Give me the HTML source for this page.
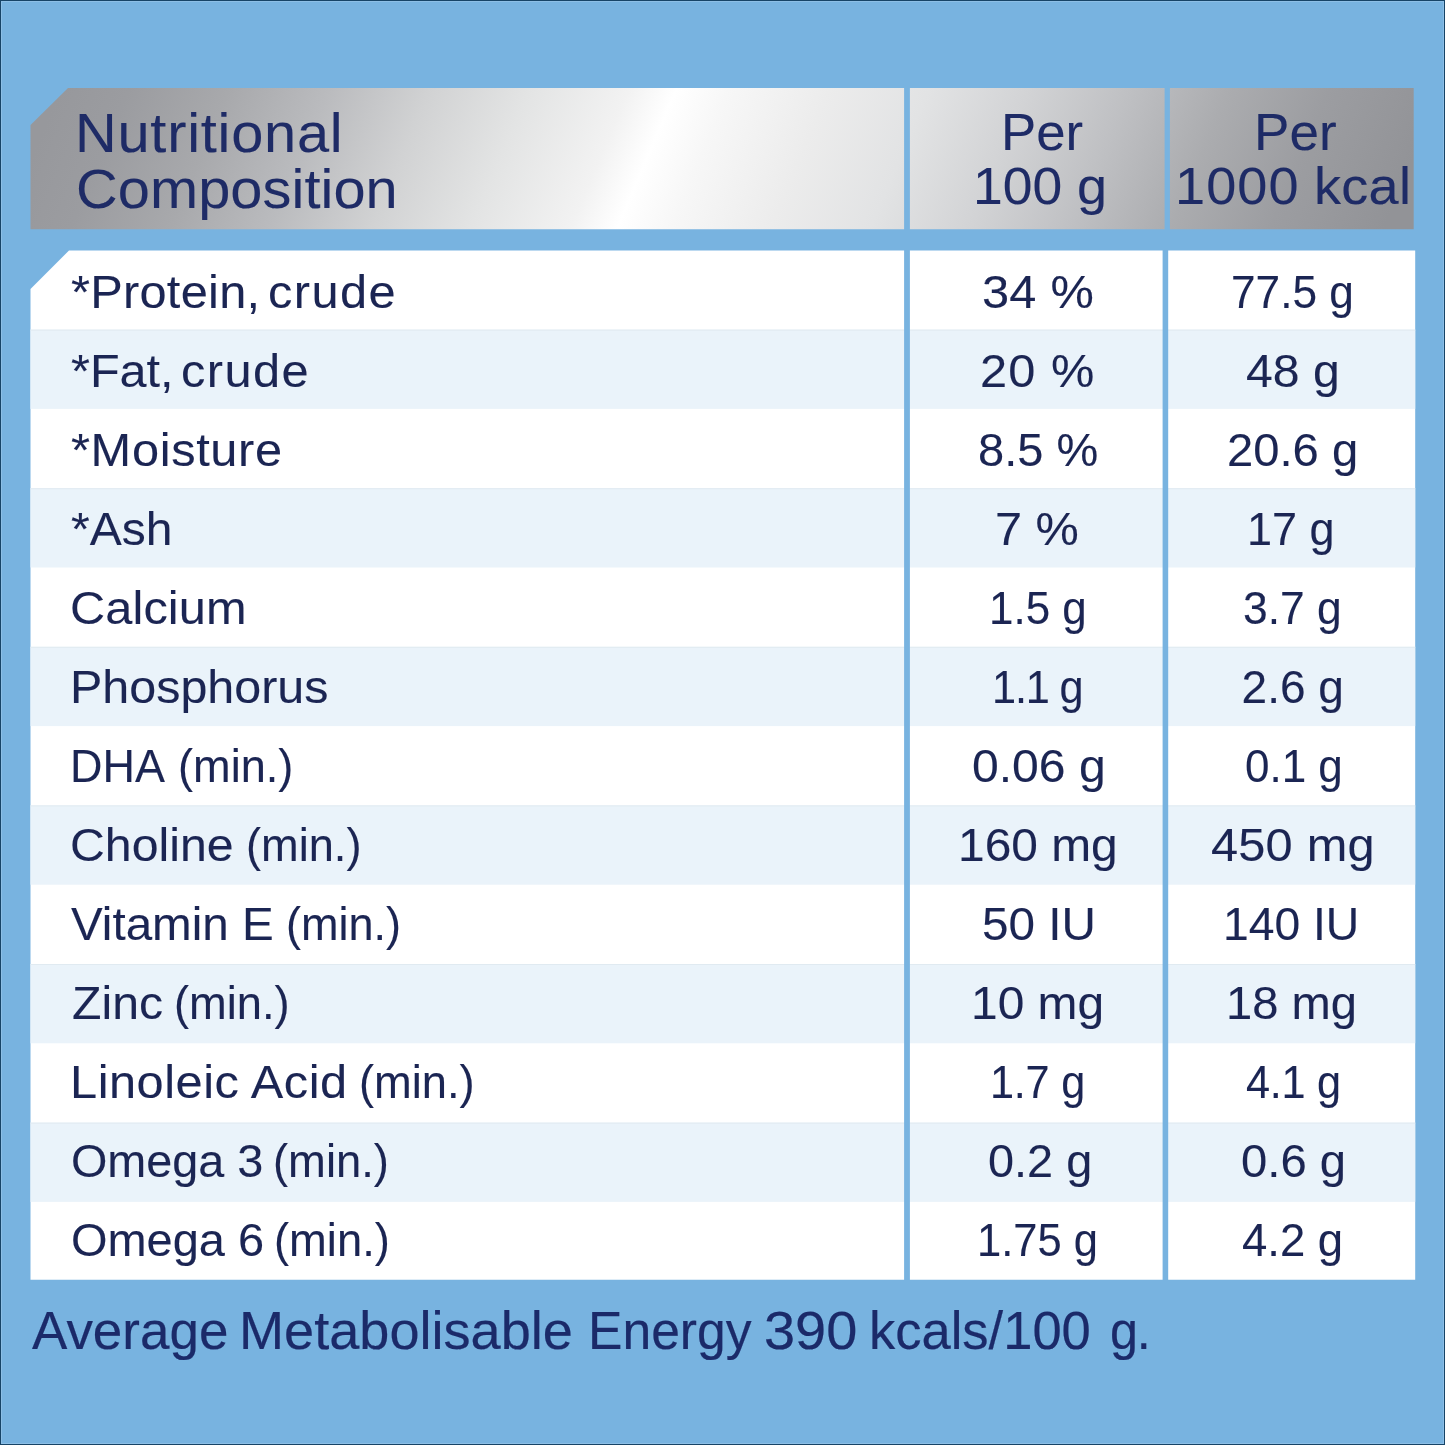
<!DOCTYPE html>
<html lang="en">
<head>
<meta charset="utf-8">
<title>Nutritional Composition</title>
<style>
html,body{margin:0;padding:0;}
body{width:1445px;height:1445px;overflow:hidden;background:#78b3e0;position:relative;
 font-family:"Liberation Sans",sans-serif;color:#1b2553;}
#bg{position:absolute;left:0;top:0;width:1445px;height:1445px;display:block;}
.t{position:absolute;white-space:nowrap;line-height:1;transform-origin:0 50%;}
.h{color:#1e2b66;-webkit-text-stroke:0.1px #1e2b66;}
.b{color:#1b2553;-webkit-text-stroke:0.1px #1b2553;}
.f{color:#1b2a69;-webkit-text-stroke:0.2px #1b2a69;}
</style>
</head>
<body>
<svg id="bg" width="1445" height="1445" viewBox="0 0 1445 1445">
  <defs>
    <linearGradient id="g" gradientUnits="userSpaceOnUse" x1="31" y1="158" x2="1414" y2="158" gradientTransform="rotate(23.0 647 158)">
      <stop offset="0.0354" stop-color="#97989c"/>
      <stop offset="0.0813" stop-color="#9b9ca0"/>
      <stop offset="0.1479" stop-color="#a8a9ac"/>
      <stop offset="0.2145" stop-color="#babbbe"/>
      <stop offset="0.2810" stop-color="#d1d2d3"/>
      <stop offset="0.3476" stop-color="#e3e4e4"/>
      <stop offset="0.4141" stop-color="#f2f2f2"/>
      <stop offset="0.4454" stop-color="#ffffff"/>
      <stop offset="0.4807" stop-color="#f7f7f7"/>
      <stop offset="0.5472" stop-color="#ececec"/>
      <stop offset="0.6138" stop-color="#e2e3e4"/>
      <stop offset="0.6804" stop-color="#d2d3d5"/>
      <stop offset="0.7469" stop-color="#bfc0c3"/>
      <stop offset="0.8135" stop-color="#abacaf"/>
      <stop offset="0.8800" stop-color="#9c9da1"/>
      <stop offset="0.9559" stop-color="#929397"/>
    </linearGradient>
  </defs>
  <rect x="0" y="0" width="1445" height="1445" fill="#78b3e0"/>
  <polygon points="68,88 1413.7,88 1413.7,229.3 30.5,229.3 30.5,125" fill="url(#g)"/>
  <polygon points="69,250.5 1415.2,250.5 1415.2,1279.8 30.5,1279.8 30.5,289" fill="#ffffff"/>
  <g fill="#eaf3fa">
    <rect x="30.5" y="329.60" width="1384.7" height="79.3"/>
    <rect x="30.5" y="488.20" width="1384.7" height="79.3"/>
    <rect x="30.5" y="646.80" width="1384.7" height="79.3"/>
    <rect x="30.5" y="805.40" width="1384.7" height="79.3"/>
    <rect x="30.5" y="964.00" width="1384.7" height="79.3"/>
    <rect x="30.5" y="1122.60" width="1384.7" height="79.3"/>
  </g>
  <g fill="#e0eaf1">
    <rect x="30.5" y="329.60" width="1384.7" height="1"/>
    <rect x="30.5" y="488.20" width="1384.7" height="1"/>
    <rect x="30.5" y="646.80" width="1384.7" height="1"/>
    <rect x="30.5" y="805.40" width="1384.7" height="1"/>
    <rect x="30.5" y="964.00" width="1384.7" height="1"/>
    <rect x="30.5" y="1122.60" width="1384.7" height="1"/>
  </g>
  <rect x="904.1" y="80" width="5.8" height="1205" fill="#78b3e0"/>
  <rect x="1164.6" y="80" width="5.3" height="160" fill="#78b3e0"/>
  <rect x="1162.6" y="245" width="5.6" height="1040" fill="#78b3e0"/>
  <rect x="0.5" y="0.5" width="1444" height="1444" fill="none" stroke="#174467" stroke-width="1"/>
  <rect x="1.5" y="1.5" width="1442" height="1442" fill="none" stroke="#8dbfe6" stroke-width="1"/>
</svg>
<div class="t h" style="left:75.2px;top:106px;font-size:55px;letter-spacing:0.73px;transform:scaleX(1.0500)">Nutritional</div>
<div class="t h" style="left:75.9px;top:162px;font-size:55px;letter-spacing:0.07px;transform:scaleX(1.0500)">Composition</div>
<div class="t h" style="left:1000.7px;top:107px;font-size:51.5px;letter-spacing:0.00px;transform:scaleX(1.0240)">Per</div>
<div class="t h" style="left:973.1px;top:161px;font-size:51.5px;letter-spacing:0.00px;transform:scaleX(1.0375)">100</div>
<div class="t h" style="left:1076.9px;top:161px;font-size:51.5px;letter-spacing:0.00px;transform:scaleX(1.0500)">g</div>
<div class="t h" style="left:1253.8px;top:107px;font-size:51.5px;letter-spacing:0.00px;transform:scaleX(1.0307)">Per</div>
<div class="t h" style="left:1175.3px;top:161px;font-size:51.5px;letter-spacing:1.03px;transform:scaleX(1.0500)">1000</div>
<div class="t h" style="left:1313.8px;top:161px;font-size:51.5px;letter-spacing:0.24px;transform:scaleX(1.0500)">kcal</div>
<div class="t b" style="left:70.5px;top:269px;font-size:46px;letter-spacing:0.24px;transform:scaleX(1.0600)">*Protein,</div>
<div class="t b" style="left:268.0px;top:269px;font-size:46px;letter-spacing:1.33px;transform:scaleX(1.0600)">crude</div>
<div class="t b" style="left:982.0px;top:269px;font-size:46px;letter-spacing:0.20px;transform:scaleX(1.0600)">34 %</div>
<div class="t b" style="left:1231.1px;top:269px;font-size:46px;letter-spacing:0.00px;transform:scaleX(0.9610)">77.5 g</div>
<div class="t b" style="left:70.5px;top:348px;font-size:46px;letter-spacing:0.00px;transform:scaleX(1.0554)">*Fat,</div>
<div class="t b" style="left:180.6px;top:348px;font-size:46px;letter-spacing:1.33px;transform:scaleX(1.0600)">crude</div>
<div class="t b" style="left:980.3px;top:348px;font-size:46px;letter-spacing:1.05px;transform:scaleX(1.0600)">20 %</div>
<div class="t b" style="left:1246.0px;top:348px;font-size:46px;letter-spacing:0.00px;transform:scaleX(1.0465)">48 g</div>
<div class="t b" style="left:70.5px;top:427px;font-size:46px;letter-spacing:0.61px;transform:scaleX(1.0600)">*Moisture</div>
<div class="t b" style="left:977.5px;top:427px;font-size:46px;letter-spacing:0.00px;transform:scaleX(1.0219)">8.5 %</div>
<div class="t b" style="left:1226.6px;top:427px;font-size:46px;letter-spacing:0.00px;transform:scaleX(1.0252)">20.6 g</div>
<div class="t b" style="left:70.6px;top:506px;font-size:46px;letter-spacing:0.00px;transform:scaleX(1.0441)">*Ash</div>
<div class="t b" style="left:995.1px;top:506px;font-size:46px;letter-spacing:0.00px;transform:scaleX(1.0587)">7 %</div>
<div class="t b" style="left:1246.7px;top:506px;font-size:46px;letter-spacing:0.00px;transform:scaleX(0.9783)">17 g</div>
<div class="t b" style="left:70.1px;top:585px;font-size:46px;letter-spacing:0.07px;transform:scaleX(1.0600)">Calcium</div>
<div class="t b" style="left:989.2px;top:585px;font-size:46px;letter-spacing:0.00px;transform:scaleX(0.9547)">1.5 g</div>
<div class="t b" style="left:1243.4px;top:585px;font-size:46px;letter-spacing:0.00px;transform:scaleX(0.9649)">3.7 g</div>
<div class="t b" style="left:69.5px;top:664px;font-size:46px;letter-spacing:-0.00px;transform:scaleX(1.0529)">Phosphorus</div>
<div class="t b" style="left:992.0px;top:664px;font-size:46px;letter-spacing:-1.22px;transform:scaleX(0.9400)">1.1 g</div>
<div class="t b" style="left:1241.6px;top:664px;font-size:46px;letter-spacing:0.00px;transform:scaleX(1.0000)">2.6 g</div>
<div class="t b" style="left:70.2px;top:743px;font-size:46px;letter-spacing:0.00px;transform:scaleX(0.9774)">DHA</div>
<div class="t b" style="left:177.5px;top:743px;font-size:46px;letter-spacing:0.00px;transform:scaleX(0.9813)">(min.)</div>
<div class="t b" style="left:971.9px;top:743px;font-size:46px;letter-spacing:0.00px;transform:scaleX(1.0455)">0.06 g</div>
<div class="t b" style="left:1244.5px;top:743px;font-size:46px;letter-spacing:0.00px;transform:scaleX(0.9557)">0.1 g</div>
<div class="t b" style="left:70.4px;top:822px;font-size:46px;letter-spacing:0.00px;transform:scaleX(1.0487)">Choline</div>
<div class="t b" style="left:246.4px;top:822px;font-size:46px;letter-spacing:0.00px;transform:scaleX(0.9821)">(min.)</div>
<div class="t b" style="left:958.1px;top:822px;font-size:46px;letter-spacing:0.00px;transform:scaleX(1.0411)">160 mg</div>
<div class="t b" style="left:1211.2px;top:822px;font-size:46px;letter-spacing:0.18px;transform:scaleX(1.0600)">450 mg</div>
<div class="t b" style="left:71.2px;top:901px;font-size:46px;letter-spacing:0.00px;transform:scaleX(1.0340)">Vitamin E</div>
<div class="t b" style="left:285.8px;top:901px;font-size:46px;letter-spacing:0.00px;transform:scaleX(0.9795)">(min.)</div>
<div class="t b" style="left:981.5px;top:901px;font-size:46px;letter-spacing:-0.00px;transform:scaleX(1.0365)">50 IU</div>
<div class="t b" style="left:1223.0px;top:901px;font-size:46px;letter-spacing:0.00px;transform:scaleX(1.0055)">140 IU</div>
<div class="t b" style="left:71.5px;top:980px;font-size:46px;letter-spacing:0.00px;transform:scaleX(1.0476)">Zinc</div>
<div class="t b" style="left:174.1px;top:980px;font-size:46px;letter-spacing:0.00px;transform:scaleX(0.9839)">(min.)</div>
<div class="t b" style="left:970.9px;top:980px;font-size:46px;letter-spacing:0.00px;transform:scaleX(1.0413)">10 mg</div>
<div class="t b" style="left:1225.7px;top:980px;font-size:46px;letter-spacing:0.00px;transform:scaleX(1.0248)">18 mg</div>
<div class="t b" style="left:69.5px;top:1059px;font-size:46px;letter-spacing:0.48px;transform:scaleX(1.0600)">Linoleic Acid</div>
<div class="t b" style="left:358.5px;top:1059px;font-size:46px;letter-spacing:0.00px;transform:scaleX(0.9839)">(min.)</div>
<div class="t b" style="left:989.5px;top:1059px;font-size:46px;letter-spacing:-0.24px;transform:scaleX(0.9400)">1.7 g</div>
<div class="t b" style="left:1245.5px;top:1059px;font-size:46px;letter-spacing:-0.27px;transform:scaleX(0.9400)">4.1 g</div>
<div class="t b" style="left:70.5px;top:1138px;font-size:46px;letter-spacing:0.00px;transform:scaleX(1.0162)">Omega 3</div>
<div class="t b" style="left:273.4px;top:1138px;font-size:46px;letter-spacing:0.00px;transform:scaleX(0.9866)">(min.)</div>
<div class="t b" style="left:987.5px;top:1138px;font-size:46px;letter-spacing:0.00px;transform:scaleX(1.0186)">0.2 g</div>
<div class="t b" style="left:1240.5px;top:1138px;font-size:46px;letter-spacing:0.00px;transform:scaleX(1.0268)">0.6 g</div>
<div class="t b" style="left:70.5px;top:1217px;font-size:46px;letter-spacing:0.00px;transform:scaleX(1.0205)">Omega 6</div>
<div class="t b" style="left:274.2px;top:1217px;font-size:46px;letter-spacing:0.00px;transform:scaleX(0.9857)">(min.)</div>
<div class="t b" style="left:977.1px;top:1217px;font-size:46px;letter-spacing:0.00px;transform:scaleX(0.9455)">1.75 g</div>
<div class="t b" style="left:1242.3px;top:1217px;font-size:46px;letter-spacing:0.00px;transform:scaleX(0.9888)">4.2 g</div>
<div class="t f" style="left:31.6px;top:1304px;font-size:53.5px;letter-spacing:0.00px;transform:scaleX(0.9903)">Average</div>
<div class="t f" style="left:239.3px;top:1304px;font-size:53.5px;letter-spacing:0.00px;transform:scaleX(1.0114)">Metabolisable</div>
<div class="t f" style="left:588.4px;top:1304px;font-size:53.5px;letter-spacing:0.00px;transform:scaleX(0.9648)">Energy</div>
<div class="t f" style="left:764.2px;top:1304px;font-size:53.5px;letter-spacing:0.00px;transform:scaleX(1.0459)">390</div>
<div class="t f" style="left:869.3px;top:1304px;font-size:53.5px;letter-spacing:0.00px;transform:scaleX(0.9814)">kcals/100</div>
<div class="t f" style="left:1109.6px;top:1304px;font-size:53.5px;letter-spacing:-1.30px;transform:scaleX(0.9400)">g.</div>
</body>
</html>
